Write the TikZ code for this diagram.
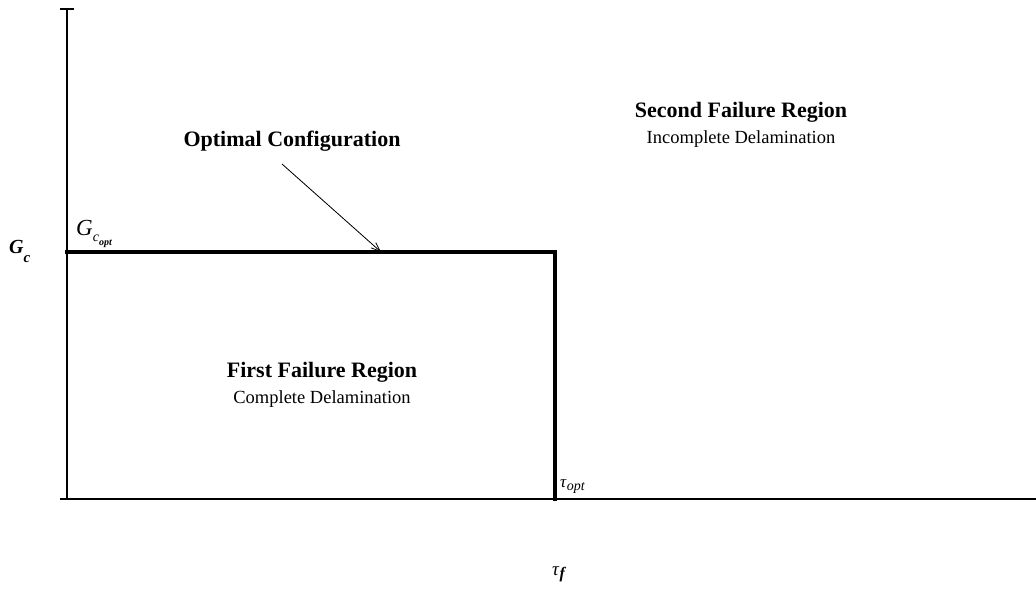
\documentclass[tikz,border=0pt]{standalone}
\usepackage{fontspec}
\setmainfont{Liberation Serif}
\usetikzlibrary{arrows.meta}
\begin{document}
\begin{tikzpicture}[x=1pt,y=-1pt,
  axisline/.style={line width=1.6pt,black},
  boundline/.style={line width=3.8pt,black},
  title/.style={font=\fontsize{22}{24}\selectfont\bfseries,inner sep=0pt},
  subtitle/.style={font=\fontsize{18.5}{20}\selectfont,inner sep=0pt},
  lbl/.style={inner sep=0pt,anchor=base west}]
\useasboundingbox (0,0) rectangle (1036,590);
% axes
\coordinate (ytop) at (67,9);
\coordinate (orig) at (67,499);
\coordinate (xleft) at (60,499);
\coordinate (xend) at (1036,499);
\draw[axisline] (orig) -- (ytop);
\draw[axisline] (60,9) -- (74,9);
\draw[axisline] (xleft) -- (xend);
% boundary
\coordinate (gleft) at (67,252);
\coordinate (corner) at (555,252);
\coordinate (tbot) at (555,499);
\draw[boundline,line cap=rect] (gleft) -- (corner) -- (tbot);
% labels
\node[title] (opt) at (292,141) {Optimal Configuration};
\coordinate (arrowstart) at (282,164);
\coordinate (arrowend) at (381,252);
\draw[line width=0.8pt,-{Straight Barb[length=9pt,width=7pt,line width=0.8pt]}] (arrowstart) -- (arrowend);
\node[title] (second) at (741,112) {Second Failure Region};
\node[subtitle] (secondsub) at (741,139) {Incomplete Delamination};
\node[title] (first) at (322,372) {First Failure Region};
\node[subtitle] (firstsub) at (322,399) {Complete Delamination};
\node[lbl,font=\fontsize{20}{22}\selectfont] (gc) at (9,253) {\textbf{\textit{G}}\raisebox{-0.45em}{\fontsize{15}{16}\selectfont\textbf{\textit{c}}}};
\node[lbl,font=\fontsize{23}{24}\selectfont] (gcopt) at (76,235) {\textit{G}\raisebox{-0.3em}{\fontsize{14}{15}\selectfont\textit{c}\raisebox{-0.25em}{\fontsize{10}{11}\selectfont\textit{\textbf{opt}}}}};
\node[lbl,font=\fontsize{17}{18}\selectfont] (topt) at (560,487) {\textit{τ}\raisebox{-0.2em}{\fontsize{14}{15}\selectfont\textit{opt}}};
\node[lbl,font=\fontsize{19}{20}\selectfont] (tf) at (552,575) {\textit{τ}\raisebox{-0.2em}{\fontsize{16}{17}\selectfont\textbf{\textit{f}}}};
\end{tikzpicture}
\end{document}
